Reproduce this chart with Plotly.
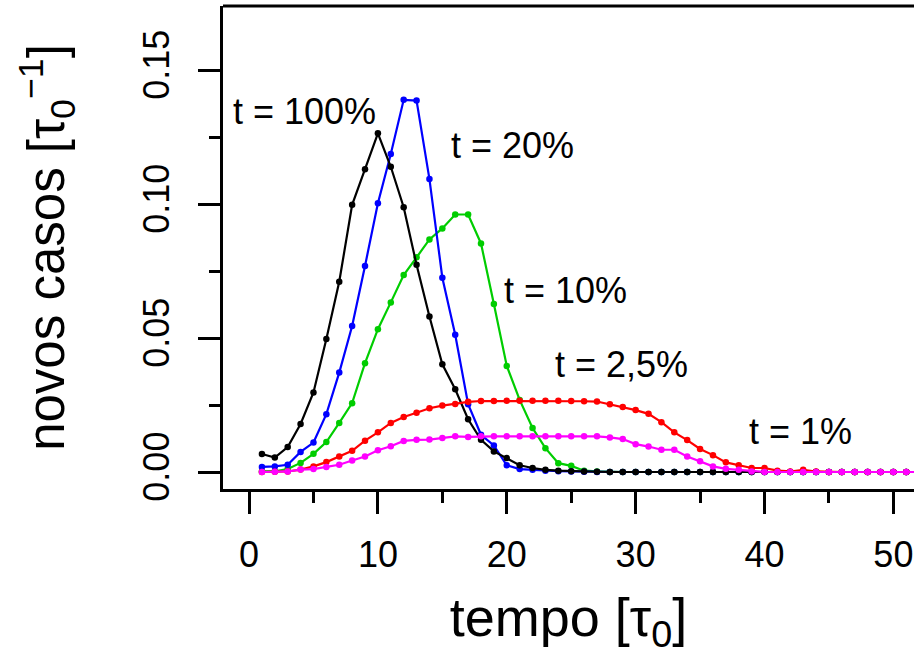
import plotly.graph_objects as go

tempo = list(range(1, 53))

casos_100 = [0.0067, 0.0054, 0.0093, 0.0179, 0.0297, 0.0496, 0.0710, 0.0997, 0.1130, 0.1264,
             0.1139, 0.0988, 0.0773, 0.0580, 0.0402, 0.0309, 0.0197, 0.0120, 0.0077, 0.0052,
             0.0025, 0.0015, 0.0008, 0.0005, 0.0003, 0.0002, 0.0001] + [0.0] * 25
casos_20 = [0.0019, 0.0021, 0.0027, 0.0075, 0.0110, 0.0216, 0.0371, 0.0545, 0.0769, 0.1003,
            0.1187, 0.1389, 0.1386, 0.1093, 0.0725, 0.0512, 0.0253, 0.0139, 0.0099, 0.0025,
            0.0011, 0.0008, 0.0005, 0.0003, 0.0002, 0.0001] + [0.0] * 26
casos_10 = [0.0002, 0.0003, 0.0011, 0.0034, 0.0068, 0.0112, 0.0183, 0.0257, 0.0406, 0.0533,
            0.0633, 0.0735, 0.0801, 0.0868, 0.0909, 0.0961, 0.0961, 0.0853, 0.0627, 0.0396,
            0.0269, 0.0164, 0.0089, 0.0033, 0.0023, 0.0005, 0.0002] + [0.0] * 25
casos_2_5 = [0.0, 0.0001, 0.0002, 0.0009, 0.0021, 0.0037, 0.0058, 0.0079, 0.0117, 0.0148,
             0.0183, 0.0205, 0.0221, 0.0238, 0.0248, 0.0254, 0.0262, 0.0265, 0.0265, 0.0266,
             0.0266, 0.0266, 0.0266, 0.0266, 0.0265, 0.0264, 0.0263, 0.0253, 0.0243, 0.0231,
             0.0217, 0.0186, 0.0148, 0.0119, 0.0086, 0.0063, 0.0036, 0.0025, 0.0015, 0.0015,
             0.0005, 0.0002, 0.0008, 0.0002] + [0.0] * 8
casos_1 = [0.0, 0.0001, 0.0002, 0.0009, 0.0011, 0.0019, 0.0027, 0.0043, 0.0058, 0.0081,
           0.0096, 0.0116, 0.0120, 0.0121, 0.0127, 0.0133, 0.0131, 0.0133, 0.0133, 0.0133,
           0.0133, 0.0133, 0.0133, 0.0133, 0.0133, 0.0133, 0.0133, 0.0129, 0.0123, 0.0104,
           0.0095, 0.0083, 0.0083, 0.0058, 0.0040, 0.0021, 0.0012, 0.0008, 0.0002] + [0.0] * 13

x_ticks = [0, 10, 20, 30, 40, 50]
y_ticks = [0.00, 0.05, 0.10, 0.15]
y_tick_labels = ["0.00", "0.05", "0.10", "0.15"]

labels = ["t = 100%", "t = 20%", "t = 10%", "t = 2,5%", "t = 1%"]
label_x = [4.33, 20.47, 24.55, 28.9, 42.76]
label_y = [0.1347, 0.1217, 0.0676, 0.0402, 0.0153]

FONT = "Liberation Sans, Arial, Helvetica, sans-serif"

series = [
    ("t = 10%", casos_10, "#00CD00"),
    ("t = 20%", casos_20, "#0000FF"),
    ("t = 100%", casos_100, "#000000"),
    ("t = 2,5%", casos_2_5, "#FF0000"),
    ("t = 1%", casos_1, "#FF00FF"),
]

fig = go.Figure()
for name, ys, col in series:
    fig.add_trace(go.Scatter(
        x=tempo, y=ys, name=name, mode="lines+markers",
        line=dict(color=col, width=2.2),
        marker=dict(color=col, size=6.5, symbol="circle"),
        cliponaxis=True,
    ))

for txt, lx, ly in zip(labels, label_x, label_y):
    fig.add_annotation(x=lx, y=ly, xref="x", yref="y", text=txt, showarrow=False,
                       font=dict(family=FONT, size=36, color="black"))

# box: left, top and bottom (right side is cut off)
fig.add_shape(type="line", xref="paper", yref="paper", x0=0, x1=1, y0=1, y1=1,
              line=dict(color="black", width=3))

fig.update_layout(
    width=914, height=655,
    margin=dict(l=223, r=0, t=6, b=166),
    paper_bgcolor="white", plot_bgcolor="white",
    showlegend=False,
    font=dict(family=FONT, color="black"),
)

fig.update_xaxes(
    range=[-2.02, 51.6], showgrid=False, zeroline=False,
    showline=True, linecolor="black", linewidth=3,
    tickmode="array", tickvals=x_ticks, ticktext=[str(v) for v in x_ticks],
    ticks="outside", ticklen=22, tickwidth=3, tickcolor="black",
    tickfont=dict(family=FONT, size=36, color="black"),
    ticklabelstandoff=10,
    minor=dict(tickmode="array", tickvals=[5, 15, 25, 35, 45], ticks="outside",
               ticklen=11, tickwidth=3, tickcolor="black"),
    title=dict(text="tempo [τ<sub>0</sub>]", font=dict(family=FONT, size=54, color="black"),
               standoff=29),
)
fig.update_yaxes(
    range=[-0.00634, 0.1739], showgrid=False, zeroline=False,
    showline=True, linecolor="black", linewidth=3,
    tickmode="array", tickvals=y_ticks, ticktext=y_tick_labels,
    ticks="outside", ticklen=22, tickwidth=3, tickcolor="black",
    tickangle=-90,
    tickfont=dict(family=FONT, size=36, color="black"),
    ticklabelstandoff=15,
    minor=dict(tickmode="array", tickvals=[0.025, 0.075, 0.125], ticks="outside",
               ticklen=11, tickwidth=3, tickcolor="black"),
    title=dict(text="novos casos [τ<sub>0</sub><sup>−1</sup>]",
               font=dict(family=FONT, size=51, color="black"), standoff=55),
)

fig.write_html("out.html", post_script="document.body.style.margin='0';",
               config={"displayModeBar": False})
